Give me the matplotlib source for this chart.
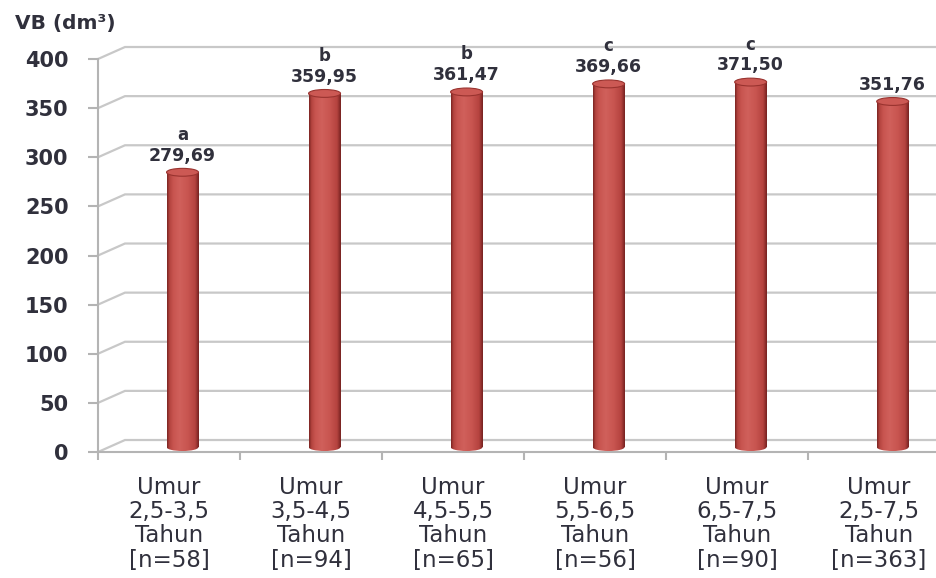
import numpy as np
import matplotlib
matplotlib.use("Agg")
import matplotlib.pyplot as plt
from matplotlib.patches import Ellipse
from matplotlib.colors import LinearSegmentedColormap

categories = ["Umur\n2,5-3,5\nTahun\n[n=58]",
              "Umur\n3,5-4,5\nTahun\n[n=94]",
              "Umur\n4,5-5,5\nTahun\n[n=65]",
              "Umur\n5,5-6,5\nTahun\n[n=56]",
              "Umur\n6,5-7,5\nTahun\n[n=90]",
              "Umur\n2,5-7,5\nTahun\n[n=363]"]
values = [279.69, 359.95, 361.47, 369.66, 371.50, 351.76]
value_labels = ["279,69", "359,95", "361,47", "369,66", "371,50", "351,76"]
letters = ["a", "b", "b", "c", "c", ""]
yticks = [0, 50, 100, 150, 200, 250, 300, 350, 400]

text_col = "#30303c"
grid_col = "#c8c8c8"

# fake 3d depth: back wall offset and bar (mid depth) offset in data units
wall_dx, wall_dy = 0.19, 12.2
bar_dx, bar_dy = 0.095, 5.0
bar_w = 0.225
cap_h = 8.0

fig = plt.figure(figsize=(9.37, 5.78), dpi=100)
ax = fig.add_axes([98 / 937, (578 - 452) / 578, 838 / 937, 393 / 578])
xmax = 5.9

# gridlines on the back wall, joined to the front axis by a short diagonal
for v in yticks:
    ax.plot([0, wall_dx, xmax], [v, v + wall_dy, v + wall_dy],
            color=grid_col, lw=1.6, clip_on=False, zorder=1,
            solid_joinstyle="miter")

shade = LinearSegmentedColormap.from_list(
    "cyl", [(0.0, "#7a2321"), (0.08, "#b4443f"), (0.2, "#c85550"),
            (0.4, "#d0605b"), (0.65, "#c85550"), (0.88, "#b5433f"),
            (1.0, "#742120")])
grad = np.linspace(0, 1, 256).reshape(1, -1)

xc = np.arange(len(values)) + 0.5 + bar_dx
bars = ax.bar(xc, values, width=bar_w, bottom=bar_dy, color="none",
              edgecolor="none", zorder=3)

for rect, x, v in zip(bars, xc, values):
    x0, x1 = x - bar_w / 2, x + bar_w / 2
    # body
    im = ax.imshow(grad, cmap=shade, extent=[x0, x1, bar_dy, bar_dy + v],
                   aspect="auto", zorder=3, interpolation="bilinear")
    im.set_clip_path(rect)
    # rounded bottom
    bot = Ellipse((x, bar_dy), bar_w, cap_h, facecolor="none",
                  edgecolor="none")
    ax.add_patch(bot)
    im2 = ax.imshow(grad, cmap=shade,
                    extent=[x0, x1, bar_dy - cap_h / 2, bar_dy],
                    aspect="auto", zorder=3, interpolation="bilinear")
    im2.set_clip_path(bot)
    # top cap
    ax.add_patch(Ellipse((x, bar_dy + v), bar_w, cap_h,
                         facecolor="#cc5954", edgecolor="#99332f",
                         lw=0.8, zorder=4))

for x, v, lab, let in zip(xc, values, value_labels, letters):
    ax.annotate(lab, (x, v + bar_dy), xytext=(0, 12), textcoords="offset points",
                ha="center", va="center", fontsize=12.5, fontweight="bold",
                color=text_col, zorder=5)
    if let:
        ax.annotate(let, (x, v + bar_dy), xytext=(0, 27),
                    textcoords="offset points", ha="center", va="center",
                    fontsize=12, fontweight="bold", color=text_col, zorder=5)

ax.set_xlim(0, xmax)
ax.set_ylim(0, 400)

ax.set_yticks(yticks)
ax.set_yticklabels([str(t) for t in yticks])
ax.tick_params(axis="y", length=7.2, width=1.5, color="#b4b4b4", pad=14,
               labelsize=15, labelcolor=text_col)
for t in ax.get_yticklabels():
    t.set_fontweight("bold")

ax.set_xticks(np.arange(0, 6))
ax.set_xticklabels([])
ax.set_xticks(np.arange(len(categories)) + 0.5, minor=True)
ax.set_xticklabels(categories, minor=True, fontsize=16.5, color=text_col,
                   linespacing=1.08, ha="center")
ax.tick_params(axis="x", which="major", length=6, width=1.5, color="#b4b4b4")
ax.tick_params(axis="x", which="minor", length=0, pad=17)

for s in ["top", "right"]:
    ax.spines[s].set_visible(False)
for s in ["left", "bottom"]:
    ax.spines[s].set_color("#b4b4b4")
    ax.spines[s].set_linewidth(1.5)
ax.patch.set_alpha(0)

fig.text(15 / 937, 1 - 23 / 578, "VB (dm³)", fontsize=14.5, fontweight="bold",
         color=text_col, ha="left", va="center")

fig.savefig("out.png", dpi=100)
